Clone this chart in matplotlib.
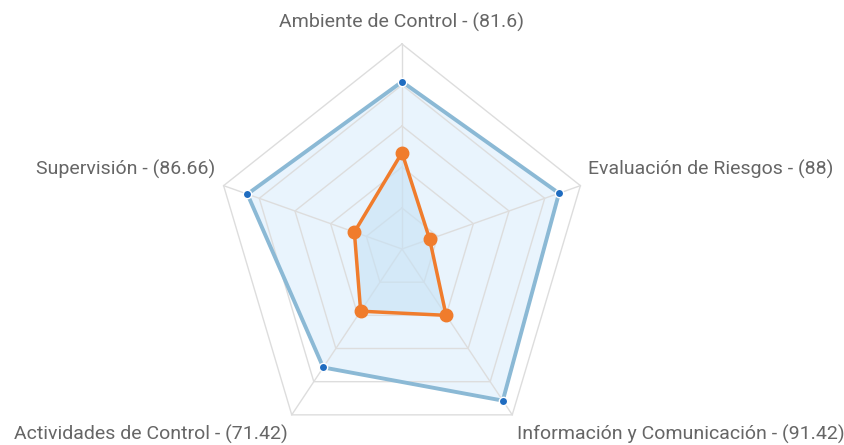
import numpy as np
import matplotlib.pyplot as plt

plt.rcParams['font.family'] = ['Roboto', 'DejaVu Sans']

categories = ["Ambiente de Control", "Evaluación de Riesgos", "Información y Comunicación",
              "Actividades de Control", "Supervisión"]
blue_vals = [81.6, 88, 91.42, 71.42, 86.66]
orange_vals = [47, 15.5, 40, 37.5, 26.7]
max_val = 100
levels = [20, 40, 60, 80, 100]

n = len(categories)
ang = np.arange(n) * 2 * np.pi / n

def xy(vals):
    vals = np.asarray(vals, dtype=float)
    x = vals * np.sin(ang)
    y = vals * np.cos(ang)
    return np.append(x, x[0]), np.append(y, y[0])

W, H = 845, 445
cx, cy, R = 402, 249, 205
ky = R / max_val          # px per unit, vertical
kx = ky * 0.915           # chart is a bit narrower than tall

fig = plt.figure(figsize=(W / 100, H / 100), dpi=100)
ax = fig.add_axes([0, 0, 1, 1])
ax.set_xlim(-cx / kx, (W - cx) / kx)
ax.set_ylim(-(H - cy) / ky, cy / ky)
ax.axis("off")

# grid
for lv in levels:
    gx, gy = xy([lv] * n)
    ax.plot(gx, gy, color="#dddddd", lw=1, zorder=1)
ox, oy = xy([max_val] * n)
for i in range(n):
    ax.plot([0, ox[i]], [0, oy[i]], color="#dddddd", lw=1, zorder=1)

# blue series
bx, by = xy(blue_vals)
ax.fill(bx, by, color="#e9f4fd", zorder=0.5)
ax.plot(bx, by, color="#8bb9d5", lw=2.8, zorder=3)
ax.plot(bx[:-1], by[:-1], "o", color="#1f6cc0", ms=6, mec="white", mew=1, zorder=4)

# orange series
rx, ry = xy(orange_vals)
ax.fill(rx, ry, color="#c6e2f5", alpha=0.6, zorder=2)
ax.plot(rx, ry, color="#f07c2c", lw=2.5, zorder=5)
ax.plot(rx[:-1], ry[:-1], "o", color="#f07c2c", ms=9, zorder=6)

labels = [f"{c} - ({v:g})" for c, v in zip(categories, blue_vals)]
offsets = [(0, 22), (8, 16), (5, -20), (-4, -20), (-8, 16)]
aligns = ["center", "left", "left", "right", "right"]
for i in range(n):
    ax.annotate(labels[i], (ox[i], oy[i]), xytext=offsets[i], textcoords="offset pixels",
                ha=aligns[i], va="center", fontsize=14, color="#666666")

fig.savefig("out.png", dpi=100)
